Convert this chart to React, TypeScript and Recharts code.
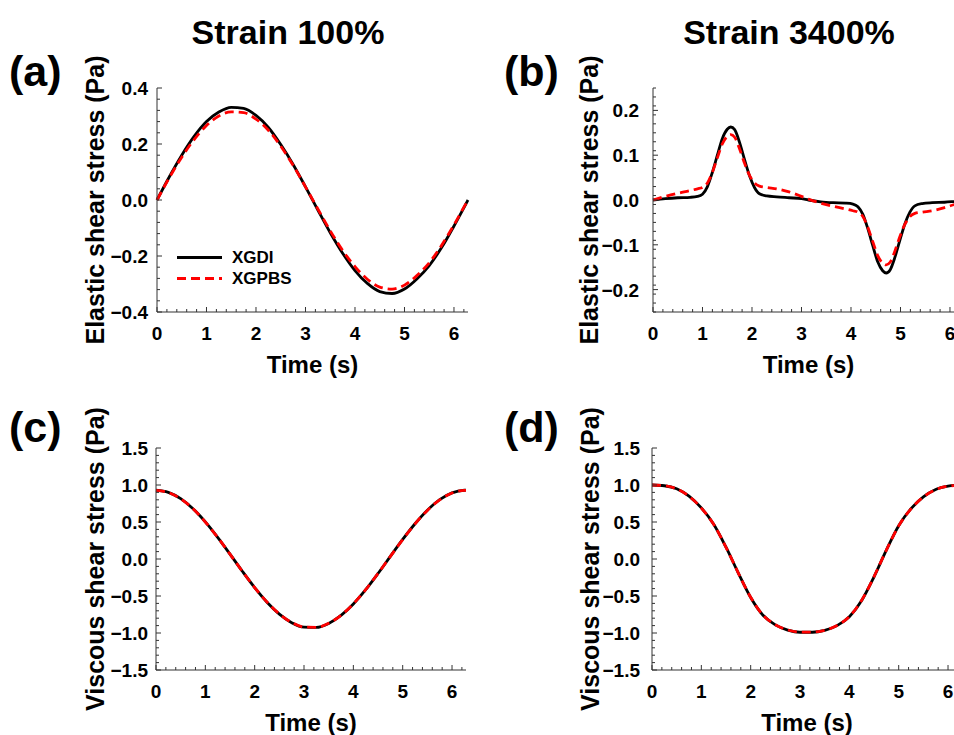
import { LineChart, Line, XAxis, YAxis, Legend, Label } from 'recharts';

const FONT = '"Liberation Sans", Arial, Helvetica, sans-serif';
const BLACK = '#000000';
const RED = '#ff0000';
const AXIS = '#333333';

// time grid shared by panels (a), (c), (d)
const TIME = [
  0, 0.25, 0.5, 0.75, 1, 1.25, 1.5, 1.75, 2, 2.25, 2.5, 2.75, 3, 3.25, 3.5, 3.75, 4, 4.25, 4.5,
  4.75, 5, 5.25, 5.5, 5.75, 6, 6.25, 6.2832,
];

// (a) elastic stress, strain 100%
const elastic100Xgdi = [
  0, 0.083, 0.16, 0.227, 0.28, 0.314, 0.331, 0.327, 0.302, 0.259, 0.198, 0.127, 0.047, -0.036,
  -0.117, -0.19, -0.252, -0.298, -0.327, -0.334, -0.318, -0.282, -0.234, -0.17, -0.093, -0.011, 0,
];
const elastic100Xgpbs = [
  0, 0.08, 0.153, 0.216, 0.266, 0.3, 0.315, 0.312, 0.289, 0.249, 0.192, 0.124, 0.047, -0.032,
  -0.11, -0.18, -0.238, -0.283, -0.311, -0.318, -0.304, -0.27, -0.224, -0.162, -0.089, -0.01, 0,
];

// (c) viscous stress, strain 100%
const viscous100Xgdi = [
  0.93, 0.901, 0.816, 0.68, 0.502, 0.293, 0.066, -0.166, -0.387, -0.584, -0.745, -0.86, -0.921,
  -0.925, -0.871, -0.763, -0.608, -0.415, -0.196, 0.035, 0.264, 0.476, 0.659, 0.801, 0.893, 0.929,
  0.93,
];
const viscous100Xgpbs = [
  0.928, 0.899, 0.814, 0.679, 0.5, 0.292, 0.065, -0.166, -0.386, -0.582, -0.743, -0.858, -0.919,
  -0.923, -0.869, -0.761, -0.606, -0.414, -0.195, 0.035, 0.263, 0.475, 0.657, 0.799, 0.891, 0.927,
  0.928,
];

// (d) viscous stress, strain 3400%
const viscous3400Xgdi = [
  1.0, 0.99, 0.95, 0.85, 0.69, 0.47, 0.16, -0.19, -0.52, -0.76, -0.89, -0.96, -0.99, -0.99, -0.965,
  -0.9, -0.78, -0.56, -0.24, 0.12, 0.45, 0.68, 0.84, 0.94, 0.985, 1.0, 1.0,
];
const viscous3400Xgpbs = [
  1.0, 0.99, 0.948, 0.848, 0.688, 0.468, 0.158, -0.19, -0.518, -0.758, -0.888, -0.958, -0.988,
  -0.988, -0.963, -0.898, -0.778, -0.558, -0.238, 0.12, 0.448, 0.678, 0.838, 0.938, 0.984, 0.998,
  1.0,
];

// (b) elastic stress, strain 3400% (denser around the peaks)
const TIME_B = [
  0, 0.25, 0.5, 0.75, 0.9, 1.0, 1.1, 1.2, 1.3, 1.4, 1.5, 1.57, 1.65, 1.75, 1.85, 1.95, 2.05, 2.15,
  2.3, 2.5, 2.75, 3.0, 3.14, 3.39, 3.64, 3.89, 4.04, 4.14, 4.24, 4.34, 4.44, 4.54, 4.64, 4.71, 4.79,
  4.89, 4.99, 5.09, 5.19, 5.29, 5.44, 5.64, 5.89, 6.14, 6.2832,
];
const elastic3400Xgdi = [
  0, 0.003, 0.005, 0.006, 0.008, 0.013, 0.03, 0.062, 0.1, 0.137, 0.158, 0.163, 0.157, 0.128, 0.09,
  0.054, 0.028, 0.014, 0.009, 0.007, 0.005, 0.003, 0, -0.004, -0.006, -0.007, -0.009, -0.015,
  -0.032, -0.064, -0.102, -0.138, -0.158, -0.163, -0.156, -0.127, -0.089, -0.053, -0.027, -0.013,
  -0.008, -0.006, -0.005, -0.003, -0.002,
];
const elastic3400Xgpbs = [
  0, 0.008, 0.015, 0.021, 0.025, 0.028, 0.038, 0.062, 0.094, 0.125, 0.142, 0.146, 0.14, 0.114,
  0.082, 0.055, 0.038, 0.031, 0.028, 0.025, 0.018, 0.008, 0.002, -0.007, -0.014, -0.02, -0.024,
  -0.027, -0.037, -0.061, -0.093, -0.124, -0.141, -0.145, -0.139, -0.113, -0.081, -0.054, -0.037,
  -0.03, -0.027, -0.024, -0.017, -0.008, -0.002,
];

// axes
const X_DOMAIN = [0, 6.2832];
const X_MAJOR = [0, 1, 2, 3, 4, 5, 6];
const Y_MAJOR_A = [-0.4, -0.2, 0, 0.2, 0.4];
const Y_MAJOR_B = [-0.2, -0.1, 0, 0.1, 0.2];
const Y_MAJOR_CD = [-1.5, -1, -0.5, 0, 0.5, 1, 1.5];

const SERIES = [
  { key: 'xgdi', name: 'XGDI', color: BLACK, dash: undefined },
  { key: 'xgpbs', name: 'XGPBS', color: RED, dash: '9 5' },
];

type Row = { t: number; xgdi: number; xgpbs: number };

function toRows(t: number[], a: number[], b: number[]): Row[] {
  return t.map((tt, i) => ({ t: tt, xgdi: a[i], xgpbs: b[i] }));
}

function withMinor(majors: number[], lo: number, hi: number, step: number) {
  const out = [...majors];
  for (let v = lo; v <= hi + 1e-9; v += step) {
    const r = Math.round(v * 1e4) / 1e4;
    if (!majors.some((m) => Math.abs(m - r) < 1e-6)) out.push(r);
  }
  return out.sort((p, q) => p - q);
}

const isMajor = (v: number, majors: number[]) => majors.some((m) => Math.abs(m - v) < 1e-6);
const fmtY = (v: number) => (v < -1e-9 ? '\u2212' : '') + Math.abs(v).toFixed(1);

const tickText = { fontFamily: FONT, fontWeight: 700, fontSize: 19, fill: '#000' };

// draws inward major/minor tick marks, labels only on majors
function makeTick(side: 'bottom' | 'left' | 'top' | 'right', majors: number[], gap = 9) {
  return (props: any) => {
    const { x, y, payload } = props;
    const v = payload.value as number;
    const major = isMajor(v, majors);
    const len = major ? 5 : 3;
    let x2 = x;
    let y2 = y;
    if (side === 'bottom') y2 = y - len;
    if (side === 'top') y2 = y + len;
    if (side === 'left') x2 = x + len;
    if (side === 'right') x2 = x - len;
    return (
      <g>
        <line x1={x} y1={y} x2={x2} y2={y2} stroke={AXIS} strokeWidth={1} />
        {major && side === 'bottom' && (
          <text x={x} y={y + 28} textAnchor="middle" {...tickText}>
            {String(v)}
          </text>
        )}
        {major && side === 'left' && (
          <text x={x - gap} y={y + 7} textAnchor="end" {...tickText}>
            {fmtY(v)}
          </text>
        )}
      </g>
    );
  };
}

const ML = 100;
const MT = 60;
const MR = 12;
const MB = 70;

function LegendBox() {
  return (
    <div style={{ fontFamily: FONT, fontWeight: 700, fontSize: 17, color: '#000' }}>
      {SERIES.map((s) => (
        <div key={s.key} style={{ display: 'flex', alignItems: 'center', height: 21 }}>
          <svg width={45} height={21} style={{ display: 'block' }}>
            <line
              x1={0}
              y1={10.5}
              x2={45}
              y2={10.5}
              stroke={s.color}
              strokeWidth={2.8}
              strokeDasharray={s.dash}
            />
          </svg>
          <span style={{ marginLeft: 10, lineHeight: '21px' }}>{s.name}</span>
        </div>
      ))}
    </div>
  );
}

type PanelProps = {
  data: Row[];
  left: number;
  top: number;
  w: number;
  h: number;
  yDomain: number[];
  yMajor: number[];
  yMinorStep: number;
  yLabel: string;
  yLabelX: number;
  gap: number;
  legend?: boolean;
};

function Panel({ data, left, top, w, h, yDomain, yMajor, yMinorStep, yLabel, yLabelX, gap, legend }: PanelProps) {
  const xTicks = withMinor(X_MAJOR, 0, 6.2, 0.2);
  const yTicks = withMinor(yMajor, yDomain[0], yDomain[1], yMinorStep);
  const axisLine = { stroke: AXIS, strokeWidth: 1 };
  return (
    <div style={{ position: 'absolute', left: left - ML, top: top - MT }}>
      <LineChart
        width={ML + w + MR}
        height={MT + h + MB}
        data={data}
        margin={{ top: MT, right: MR, bottom: 0, left: 0 }}
      >
        <XAxis
          dataKey="t"
          type="number"
          domain={X_DOMAIN}
          ticks={xTicks}
          interval={0}
          height={MB}
          tickSize={0}
          tickMargin={0}
          tickLine={false}
          axisLine={axisLine}
          tick={makeTick('bottom', X_MAJOR)}
        >
          <Label
            value="Time (s)"
            position="insideTop"
            offset={44}
            fontFamily={FONT}
            fontWeight={700}
            fontSize={24}
            fill="#000"
          />
        </XAxis>
        <XAxis
          xAxisId="top"
          orientation="top"
          type="number"
          domain={X_DOMAIN}
          ticks={xTicks}
          interval={0}
          height={0}
          tickSize={0}
          tickMargin={0}
          tickLine={false}
          axisLine={axisLine}
          tick={makeTick('top', X_MAJOR)}
        />
        <YAxis
          type="number"
          domain={yDomain}
          ticks={yTicks}
          interval={0}
          width={ML}
          tickSize={0}
          tickMargin={0}
          tickLine={false}
          axisLine={axisLine}
          tick={makeTick('left', yMajor, gap)}
        >
          <Label
            value={yLabel}
            position="insideLeft"
            offset={yLabelX}
            angle={-90}
            fontFamily={FONT}
            fontWeight={700}
            fontSize={25}
            fill="#000"
            style={{ textAnchor: 'middle' }}
          />
        </YAxis>
        <YAxis
          yAxisId="right"
          orientation="right"
          type="number"
          domain={yDomain}
          ticks={yTicks}
          interval={0}
          width={0}
          tickSize={0}
          tickMargin={0}
          tickLine={false}
          axisLine={axisLine}
          tick={makeTick('right', yMajor)}
        />
        {SERIES.map((s) => (
          <Line
            key={s.key}
            dataKey={s.key}
            name={s.name}
            type="monotone"
            stroke={s.color}
            strokeWidth={2.8}
            strokeDasharray={s.dash}
            dot={false}
            activeDot={false}
            isAnimationActive={false}
          />
        ))}
        {legend && (
          <Legend
            layout="vertical"
            align="center"
            verticalAlign="middle"
            content={() => <LegendBox />}
            wrapperStyle={{ left: ML + 20, top: MT + 159, width: 'auto', height: 'auto' }}
          />
        )}
      </LineChart>
    </div>
  );
}

const titleStyle = { fontFamily: FONT, fontWeight: 700, fill: '#000' };

export default function App() {
  return (
    <div
      style={{
        position: 'fixed',
        left: 0,
        top: 0,
        width: 954,
        height: 735,
        overflow: 'hidden',
        background: '#fff',
      }}
    >
      <Panel
        data={toRows(TIME, elastic100Xgdi, elastic100Xgpbs)}
        left={157}
        top={88}
        w={311}
        h={224}
        yDomain={[-0.4, 0.4]}
        yMajor={Y_MAJOR_A}
        yMinorStep={0.04}
        yLabel="Elastic shear stress (Pa)"
        yLabelX={38}
        gap={9}
        legend
      />
      <Panel
        data={toRows(TIME_B, elastic3400Xgdi, elastic3400Xgpbs)}
        left={653}
        top={88}
        w={311}
        h={224}
        yDomain={[-0.25, 0.25]}
        yMajor={Y_MAJOR_B}
        yMinorStep={0.02}
        yLabel="Elastic shear stress (Pa)"
        yLabelX={36}
        gap={14}
      />
      <Panel
        data={toRows(TIME, viscous100Xgdi, viscous100Xgpbs)}
        left={156}
        top={448}
        w={310}
        h={222}
        yDomain={[-1.5, 1.5]}
        yMajor={Y_MAJOR_CD}
        yMinorStep={0.1}
        yLabel="Viscous shear stress (Pa)"
        yLabelX={39}
        gap={8}
      />
      <Panel
        data={toRows(TIME, viscous3400Xgdi, viscous3400Xgpbs)}
        left={652}
        top={448}
        w={310}
        h={222}
        yDomain={[-1.5, 1.5]}
        yMajor={Y_MAJOR_CD}
        yMinorStep={0.1}
        yLabel="Viscous shear stress (Pa)"
        yLabelX={38}
        gap={12}
      />
      <svg
        width={954}
        height={735}
        style={{ position: 'absolute', left: 0, top: 0, pointerEvents: 'none' }}
      >
        <text x={288} y={44} textAnchor="middle" fontSize={34} {...titleStyle}>
          Strain 100%
        </text>
        <text x={789} y={44} textAnchor="middle" fontSize={34} {...titleStyle}>
          Strain 3400%
        </text>
        <text x={9} y={86} fontSize={43} {...titleStyle}>
          (a)
        </text>
        <text x={504} y={86} fontSize={43} {...titleStyle}>
          (b)
        </text>
        <text x={9} y={442} fontSize={43} {...titleStyle}>
          (c)
        </text>
        <text x={504} y={442} fontSize={43} {...titleStyle}>
          (d)
        </text>
      </svg>
    </div>
  );
}
